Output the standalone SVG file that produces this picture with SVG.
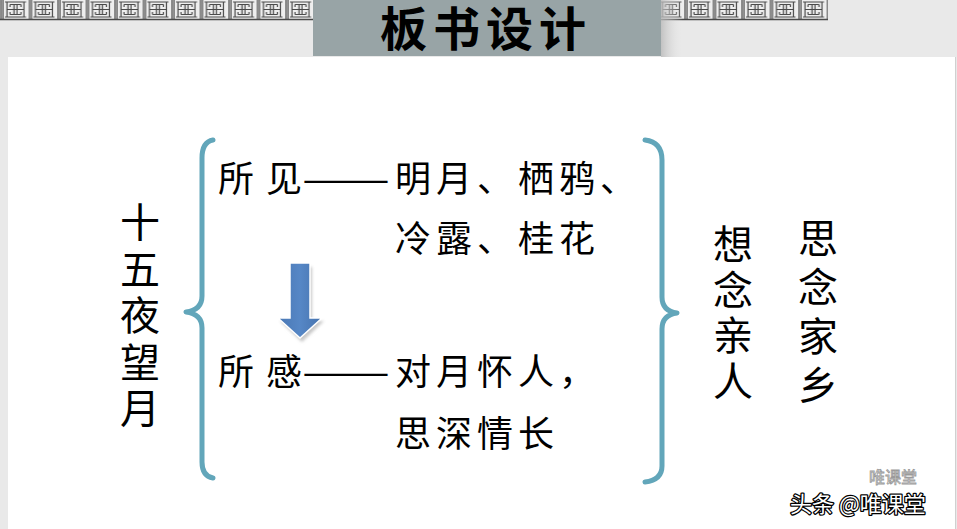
<svg xmlns="http://www.w3.org/2000/svg" width="957" height="529" viewBox="0 0 957 529">
<defs>
<style>
.t{font-family:"Noto Sans CJK SC","Noto Sans CJK TC",sans-serif;font-size:36px;fill:#000;}
.v{font-family:"Noto Sans CJK SC","Noto Sans CJK TC",sans-serif;font-size:40px;fill:#000;writing-mode:vertical-rl;}
.brace{fill:none;stroke:#62a6ba;stroke-width:5;stroke-linecap:round;stroke-linejoin:round;}
.fret{fill:none;stroke:#4a4a4a;stroke-width:1.2;}
</style>
<pattern id="fretPat" x="0" y="0" width="28.5" height="20" patternUnits="userSpaceOnUse">
<rect width="28.5" height="20" fill="#eeeeee"/>
<path class="fret" d="M1,0 V19 M3,0 V19 M5,2 H26 M5,17 H26 M7,2 V17 M24,2 V17 M7,9.5 H24 M14,4.5 V14.5 M17,4.5 V14.5 M10,4.5 H21 M10,14.5 H21 M10,4.5 V7 M21,12 V14.5 M10,12 V14.5 M21,4.5 V7"/>
</pattern>
<linearGradient id="arrowGrad" x1="0" y1="0" x2="1" y2="0">
<stop offset="0" stop-color="#4a78b4"/>
<stop offset="0.5" stop-color="#5687c6"/>
<stop offset="1" stop-color="#4572ad"/>
</linearGradient>
<linearGradient id="shadowGrad" x1="0" y1="0" x2="1" y2="0">
<stop offset="0" stop-color="#b8b8b8" stop-opacity="0.8"/>
<stop offset="1" stop-color="#e8e8e8" stop-opacity="0"/>
</linearGradient>
<filter id="soft" x="-20%" y="-20%" width="140%" height="140%">
<feGaussianBlur stdDeviation="1.5"/>
</filter>
</defs>

<g id="background">
<rect x="0" y="0" width="957" height="529" fill="#e9e9e9"/>
<rect x="0" y="0" width="314" height="20" fill="url(#fretPat)"/>
<rect x="661" y="0" width="167" height="20" fill="url(#fretPat)"/>
<line x1="0" y1="19.5" x2="314" y2="19.5" stroke="#4a4a4a" stroke-width="1.5"/>
<line x1="661" y1="19.5" x2="828" y2="19.5" stroke="#4a4a4a" stroke-width="1.5"/>
<rect x="661" y="0" width="22" height="57" fill="url(#shadowGrad)"/>
<rect x="8" y="57" width="947" height="472" fill="#ffffff"/>
<line x1="955.5" y1="57" x2="955.5" y2="529" stroke="#d0d0d0" stroke-width="1"/>
</g>

<g id="title">
<rect x="313" y="0" width="348" height="56" fill="#98a4a6"/>
<text x="486" y="46" text-anchor="middle" font-family="'Noto Sans CJK SC','Noto Sans CJK TC',sans-serif" font-size="47" font-weight="bold" letter-spacing="6" fill="#000">板书设计</text>
</g>

<g id="node-topic">
<text class="v" x="140" y="202" letter-spacing="6.5">十五夜望月</text>
</g>

<g id="node-seen">
<text class="t" y="192"><tspan x="218">所</tspan><tspan x="266">见</tspan><tspan x="302" textLength="88" lengthAdjust="spacingAndGlyphs">——</tspan><tspan x="395" letter-spacing="5">明月、栖鸦、</tspan></text>
<text class="t" x="395" y="252" letter-spacing="5">冷露、桂花</text>
</g>

<g id="node-felt">
<text class="t" y="385"><tspan x="218">所</tspan><tspan x="266">感</tspan><tspan x="302" textLength="88" lengthAdjust="spacingAndGlyphs">——</tspan><tspan x="395" letter-spacing="5">对月怀人，</tspan></text>
<text class="t" x="395" y="447" letter-spacing="5">思深情长</text>
</g>

<g id="node-theme1">
<text class="v" x="733" y="224" letter-spacing="5.5">想念亲人</text>
</g>

<g id="node-theme2">
<text class="v" x="818" y="218" letter-spacing="9">思念家乡</text>
</g>

<g id="connectors">
<path class="brace" d="M213,140 Q202,142 202,158 L202,296 Q202,310 186,312 Q202,314 202,328 L202,462 Q202,476 213,478"/>
<path class="brace" d="M645,140 Q662,142 662,160 L662,297 Q662,311 677,313 Q662,315 662,329 L662,466 Q662,480 645,482"/>
<polygon points="291,265 311,265 311,319 323,319 301,340 279,319 291,319" fill="#c8c8c8" filter="url(#soft)" transform="translate(1,2)"/>
<polygon points="290,263 310,263 310,318 322,318 300,338 278,318 290,318" fill="url(#arrowGrad)" stroke="#ffffff" stroke-width="1.5" stroke-linejoin="miter"/>
</g>

<g id="watermark">
<text x="893" y="483" text-anchor="middle" font-family="'Noto Sans CJK SC',sans-serif" font-size="16" fill="#ffffff" stroke="#9a9a9a" stroke-width="0.8">唯课堂</text>
<text x="790" y="512" font-family="'Noto Sans CJK SC',sans-serif" font-size="22" fill="#ffffff" stroke="#000" stroke-width="2.5" paint-order="stroke" stroke-linejoin="round">头条 @唯课堂</text>
</g>
</svg>
